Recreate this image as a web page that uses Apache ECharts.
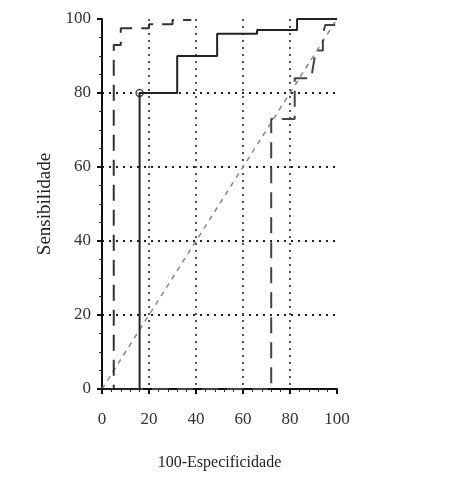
<!DOCTYPE html>
<html>
<head>
<meta charset="utf-8">
<script src="https://cdn.jsdelivr.net/npm/echarts@6/dist/echarts.min.js"></script>
<style>
  html, body { margin: 0; padding: 0; background: #fff; }
  #main { width: 453px; height: 493px; }
</style>
</head>
<body>
<div id="main"></div>
<script>
// curva solida (passos)
var solidCurve = [[0, 0], [16, 0], [16, 80], [32, 80], [32, 90], [49, 90], [49, 96], [66, 96], [66, 97], [83, 97], [83, 100], [100, 100]];
// ponto marcado
var cutPoint = [[16, 80]];
// curva tracejada (esquerda)
var dashLeft = [[0, 0], [5, 0], [5, 93], [8, 93], [8, 97.5], [20, 97.5], [20, 98.6], [30, 98.6], [30, 99.7], [38, 99.7]];
// curva tracejada (direita)
var dashRight = [[0, 0], [72, 0], [72, 73], [82, 73], [82, 84], [89, 84], [91, 91.5], [94, 91.5], [94, 96], [95, 98.4], [99.5, 98.4], [100, 100]];
// diagonal de referencia
var diagonal = [[0, 0], [100, 100]];

var xTicks = [0, 20, 40, 60, 80, 100];
var yTicks = [0, 20, 40, 60, 80, 100];

var chart = echarts.init(document.getElementById('main'));
var font = 'Liberation Serif';
var option = {
  backgroundColor: '#fff',
  animation: false,
  grid: { left: 102, right: 116, top: 19, bottom: 104 },
  xAxis: {
    type: 'value', min: xTicks[0], max: xTicks[xTicks.length - 1], interval: 20,
    name: '100-Especificidade', nameLocation: 'middle', nameGap: 66,
    nameTextStyle: { fontFamily: font, fontSize: 16, color: '#222' },
    axisLine: { lineStyle: { color: '#111', width: 2 } },
    axisTick: { length: 5, lineStyle: { color: '#111', width: 2 } },
    minorTick: { show: true, splitNumber: 5, length: 3, lineStyle: { color: '#333' } },
    axisLabel: { fontFamily: font, fontSize: 17, color: '#333', margin: 22 },
    splitLine: { show: true, showMinLine: false, showMaxLine: false,
      lineStyle: { color: '#555', width: 2, type: [2, 5] } }
  },
  yAxis: {
    type: 'value', min: yTicks[0], max: yTicks[yTicks.length - 1], interval: 20,
    name: 'Sensibilidade', nameLocation: 'middle', nameGap: 45,
    nameTextStyle: { fontFamily: font, fontSize: 19, color: '#222' },
    axisLine: { show: true, lineStyle: { color: '#111', width: 2 } },
    axisTick: { show: true, length: 5, lineStyle: { color: '#111', width: 2 } },
    minorTick: { show: true, splitNumber: 4, length: 3, lineStyle: { color: '#333' } },
    axisLabel: { fontFamily: font, fontSize: 17, color: '#333', margin: 11 },
    splitLine: { show: true, showMinLine: false, showMaxLine: false,
      lineStyle: { color: '#222', width: 2, type: [2, 5] } }
  },
  series: [
    { type: 'line', data: diagonal, symbol: 'none',
      lineStyle: { color: '#888', width: 1.5, type: [5, 5] } },
    { type: 'line', data: dashRight, symbol: 'none',
      lineStyle: { color: '#444', width: 2, type: [16, 9] } },
    { type: 'line', data: dashLeft, symbol: 'none',
      lineStyle: { color: '#333', width: 2, type: [16, 9] } },
    { type: 'line', data: solidCurve, symbol: 'none',
      lineStyle: { color: '#222', width: 2 } },
    { type: 'scatter', data: cutPoint, symbol: 'circle', symbolSize: 7,
      itemStyle: { color: '#fff', borderColor: '#222', borderWidth: 1.5 } }
  ]
};
chart.setOption(option);
</script>
</body>
</html>
